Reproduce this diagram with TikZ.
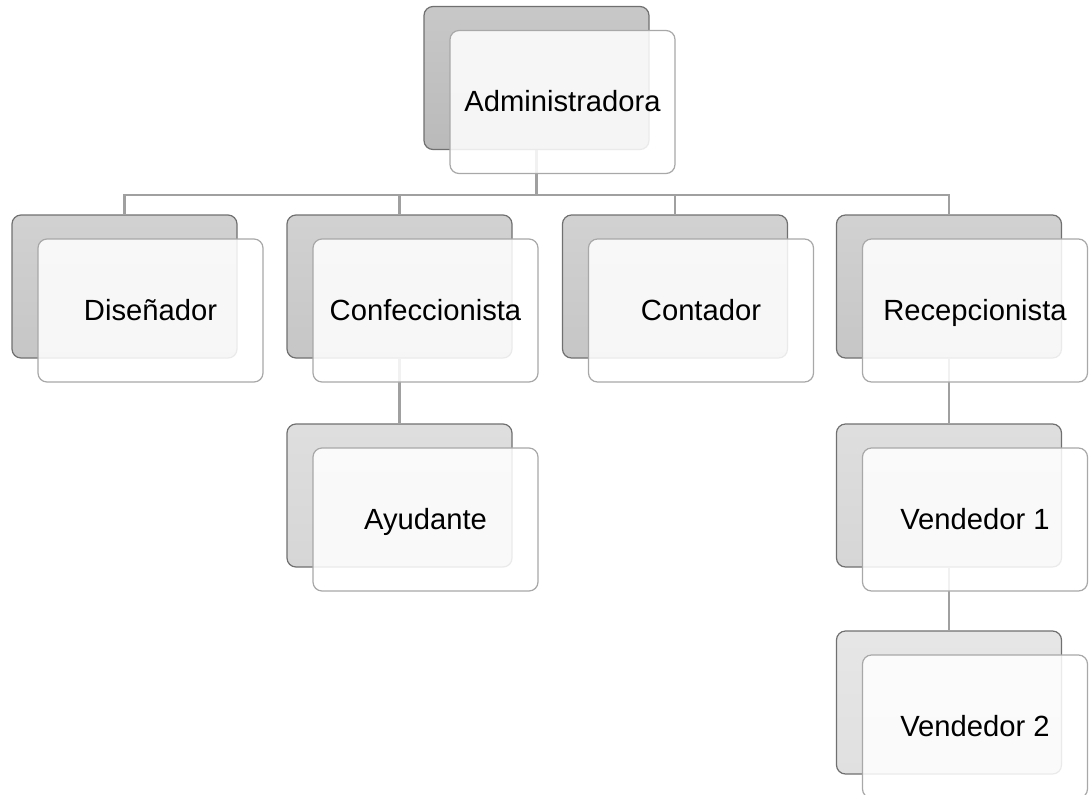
\documentclass[tikz,border=0pt]{standalone}
\usepackage{fontspec}
\setmainfont{Liberation Sans}
\usetikzlibrary{positioning}
\pgfdeclarelayer{bg}
\pgfsetlayers{bg,main}

\definecolor{lvlA}{HTML}{BABABA}
\definecolor{lvlB}{HTML}{C6C6C6}
\definecolor{lvlC}{HTML}{D6D6D6}
\definecolor{lvlD}{HTML}{E0E0E0}
\definecolor{rimback}{HTML}{707070}
\definecolor{rimface}{HTML}{A8A8A8}
\definecolor{wire}{HTML}{A0A0A0}

\tikzset{
  card/.style={draw=rimback, line width=0.6pt, rounded corners=4.5pt,
    minimum width=112.5pt, minimum height=71.5pt, inner sep=0pt,
    top color=#1!80!white, bottom color=#1},
  face/.style={draw=rimface, line width=0.6pt, rounded corners=4.5pt,
    fill=white, fill opacity=0.86, text opacity=1,
    minimum width=112.5pt, minimum height=71.5pt, inner sep=0pt,
    text height=12pt, text depth=2.2pt,
    font=\fontsize{14.6}{17}\selectfont},
  link/.style={draw=wire, line width=1.1pt}
}

\begin{document}
\begin{tikzpicture}[x=0.5pt,y=-0.5pt]
  \useasboundingbox (0,0) rectangle (1089,794);
  % back cards
  \node[card=lvlA] (adm) at (536.5,78)    {};
  \node[card=lvlB] (dis) at (124.5,286.5) {};
  \node[card=lvlB] (con) at (399.5,286.5) {};
  \node[card=lvlB] (cnt) at (675,286.5)   {};
  \node[card=lvlB] (rec) at (949,286.5)   {};
  \node[card=lvlC] (ayu) at (399.5,495.5) {};
  \node[card=lvlC] (ve1) at (949,495.5)   {};
  \node[card=lvlD] (ve2) at (949,702.5)   {};
  % front faces
  \node[face, xshift=13pt, yshift=-12pt] (admF) at (adm) {Administradora};
  \node[face, xshift=13pt, yshift=-12pt] (disF) at (dis) {Diseñador};
  \node[face, xshift=13pt, yshift=-12pt] (conF) at (con) {Confeccionista};
  \node[face, xshift=13pt, yshift=-12pt] (cntF) at (cnt) {Contador};
  \node[face, xshift=13pt, yshift=-12pt] (recF) at (rec) {Recepcionista};
  \node[face, xshift=13pt, yshift=-12pt] (ayuF) at (ayu) {Ayudante};
  \node[face, xshift=13pt, yshift=-12pt] (ve1F) at (ve1) {Vendedor 1};
  \node[face, xshift=13pt, yshift=-12pt] (ve2F) at (ve2) {Vendedor 2};
  % connectors
  \begin{pgfonlayer}{bg}
    \foreach \n in {dis,con,cnt,rec}
      \draw[link] (adm.south) -- ++(0,45) -| (\n.north);
    \draw[link] (con.south) -- (ayu.north);
    \draw[link] (rec.south) -- (ve1.north);
    \draw[link] (ve1.south) -- (ve2.north);
  \end{pgfonlayer}
\end{tikzpicture}
\end{document}
